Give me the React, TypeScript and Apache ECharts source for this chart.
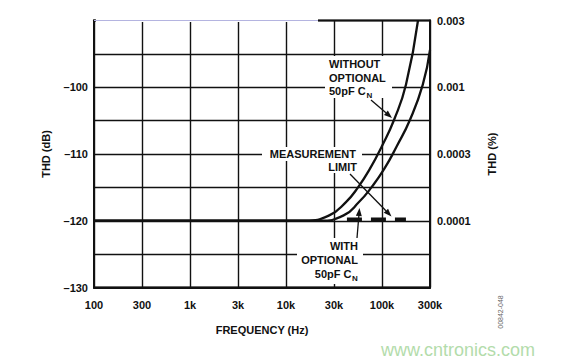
import React, { useEffect, useRef } from 'react';
import * as echarts from 'echarts';

// ---- data ----
const tickFreqs = [100, 300, 1000, 3000, 10000, 30000, 100000, 300000];
const tickLabels = ['100', '300', '1k', '3k', '10k', '30k', '100k', '300k'];

const dbTickValues = [-130, -120, -110, -100];
const dbTickLabels = ['–130', '–120', '–110', '–100'];

const pctTickValues = [-120, -110, -100, -90];
const pctTickLabels = ['0.0001', '0.0003', '0.001', '0.003'];

// [frequency Hz, THD dB]
const withoutCn: [number, number][] = [
  [100, -120], [10000, -120], [15500, -120], [26900, -119.2], [40500, -117.2],
  [54800, -115], [74000, -112.2], [100000, -108.8], [131600, -104.9],
  [173200, -99.6], [227900, -90],
];
const withCn: [number, number][] = [
  [100, -120], [12000, -120], [21600, -120], [38200, -119.2], [56100, -117.2],
  [76700, -115], [105600, -112.2], [140600, -108.8], [189300, -104.9],
  [254400, -99.6], [300000, -94.4],
];
const measurementLimit: [number, number][] = [[41500, -119.8], [173000, -119.8]];

// ---- helpers ----
function freqToPos(f: number): number {
  for (let i = 0; i < tickFreqs.length - 1; i++) {
    const a = tickFreqs[i], b = tickFreqs[i + 1];
    if (f <= b || i === tickFreqs.length - 2) {
      return i + Math.log(f / a) / Math.log(b / a);
    }
  }
  return 0;
}

const FONT = '"Liberation Sans", Arial, Helvetica, sans-serif';
const INK = '#111';

function arrow(x1: number, y1: number, x2: number, y2: number) {
  const dx = x2 - x1, dy = y2 - y1;
  const len = Math.sqrt(dx * dx + dy * dy);
  const ux = dx / len, uy = dy / len;
  const hl = 8, hw = 3;
  const bx = x2 - ux * hl, by = y2 - uy * hl;
  return [
    { type: 'line', z: 100, shape: { x1, y1, x2: bx, y2: by }, style: { stroke: INK, lineWidth: 1.3 } },
    {
      type: 'polygon', z: 100,
      shape: { points: [[x2, y2], [bx - uy * hw, by + ux * hw], [bx + uy * hw, by - ux * hw]] },
      style: { fill: INK },
    },
  ];
}

function txt(text: string, x: number, y: number, align: string, size = 11, weight = 'bold') {
  return {
    type: 'text', z: 101, x, y,
    style: { text, fill: INK, font: `${weight} ${size}px ${FONT}`, textAlign: align, textVerticalAlign: 'middle' },
  };
}

function bgRect(x: number, y: number, width: number, height: number) {
  return { type: 'rect', z: 99, shape: { x, y, width, height }, style: { fill: '#fff' } };
}

export default function App() {
  const ref = useRef<HTMLDivElement>(null);
  useEffect(() => {
    if (!ref.current) return;
    const chart = echarts.init(ref.current, undefined, { renderer: 'svg' });
    const lineStyle = { color: INK, width: 2.3 };
    const labelFont = { fontFamily: FONT, fontWeight: 'bold', fontSize: 11, color: INK };

    chart.setOption({
      animation: false,
      backgroundColor: '#fff',
      grid: { left: 94, right: 132, top: 20.5, bottom: 74.5, show: true, borderColor: INK, borderWidth: 2 },
      xAxis: {
        type: 'value', min: 0, max: tickFreqs.length - 1, interval: 1,
        name: 'FREQUENCY (Hz)', nameLocation: 'middle', nameGap: 37,
        nameTextStyle: { ...labelFont },
        axisLine: { show: true, lineStyle: { color: INK, width: 2 } },
        axisTick: { show: false },
        axisLabel: { ...labelFont, margin: 12, formatter: (v: number) => tickLabels[Math.round(v)] ?? '' },
        splitLine: { show: true, lineStyle: { color: INK, width: 1.4 } },
      },
      yAxis: [
        {
          type: 'value', min: -130, max: -90, interval: 5, position: 'left',
          name: 'THD (dB)', nameLocation: 'middle', nameGap: 43, nameRotate: 90,
          nameTextStyle: { ...labelFont },
          axisLine: { show: true, lineStyle: { color: INK, width: 2 } },
          axisTick: { show: false },
          axisLabel: {
            ...labelFont, margin: 6,
            formatter: (v: number) => {
              const i = dbTickValues.indexOf(v);
              return i >= 0 ? dbTickLabels[i] : '';
            },
          },
          splitLine: { show: true, lineStyle: { color: INK, width: 1.4 } },
        },
        {
          type: 'value', min: -130, max: -90, interval: 10, position: 'right',
          name: 'THD (%)', nameLocation: 'middle', nameGap: 56, nameRotate: 90,
          nameTextStyle: { ...labelFont },
          axisLine: { show: true, lineStyle: { color: INK, width: 2 } },
          axisTick: { show: false },
          axisLabel: {
            ...labelFont, margin: 7,
            formatter: (v: number) => {
              const i = pctTickValues.indexOf(v);
              return i >= 0 ? pctTickLabels[i] : '';
            },
          },
          splitLine: { show: false },
        },
      ],
      series: [
        {
          name: 'Without optional 50pF CN', type: 'line', yAxisIndex: 0, smooth: 0.5,
          symbol: 'none', lineStyle, z: 5,
          data: withoutCn.map(([f, v]) => [freqToPos(f), v]),
        },
        {
          name: 'With optional 50pF CN', type: 'line', yAxisIndex: 0, smooth: 0.5,
          symbol: 'none', lineStyle, z: 5,
          data: withCn.map(([f, v]) => [freqToPos(f), v]),
        },
        {
          name: 'Measurement limit', type: 'line', yAxisIndex: 0, symbol: 'none', z: 6,
          lineStyle: { color: INK, width: 4, type: [15, 9] },
          data: measurementLimit.map(([f, v]) => [freqToPos(f), v]),
        },
      ],
      graphic: [
        // faded top border (scan artifact)
        { type: 'line', z: 98, shape: { x1: 96, y1: 20.5, x2: 318, y2: 20.5 }, style: { stroke: '#fff', lineWidth: 3 } },
        { type: 'line', z: 98, shape: { x1: 94, y1: 20.5, x2: 318, y2: 20.5 }, style: { stroke: '#b4b4e0', lineWidth: 1.2 } },

        bgRect(325, 56, 67, 42),
        txt('WITHOUT', 329, 64, 'left'),
        txt('OPTIONAL', 329, 77.5, 'left'),
        txt('50pF C', 329, 91, 'left'),
        txt('N', 366.5, 95, 'left', 8),
        ...arrow(371, 100, 392, 118),

        bgRect(262, 147, 100, 14),
        bgRect(322, 160, 39, 13),
        txt('MEASUREMENT', 356, 154, 'right'),
        txt('LIMIT', 357, 167, 'right'),
        ...arrow(350, 174, 391.5, 216.5),

        bgRect(297, 238, 66, 46),
        txt('WITH', 358, 246, 'right'),
        txt('OPTIONAL', 358, 260, 'right'),
        txt('50pF C', 351.5, 274, 'right'),
        txt('N', 352, 278, 'left', 8),
        ...arrow(357, 238, 359.5, 208),

        {
          type: 'text', z: 101, x: 500, y: 312, rotation: Math.PI / 2,
          style: { text: '00842-048', fill: '#666', font: `7px ${FONT}`, textAlign: 'center', textVerticalAlign: 'middle' },
        },
        {
          type: 'text', z: 101, x: 381, y: 350,
          style: { text: 'www.cntronics.com', fill: '#b3dcab', font: `18px ${FONT}`, textAlign: 'left', textVerticalAlign: 'middle' },
        },
      ],
    });
    return () => chart.dispose();
  }, []);
  return <div ref={ref} style={{ position: 'fixed', left: 0, top: 0, width: 562, height: 362 }} />;
}
